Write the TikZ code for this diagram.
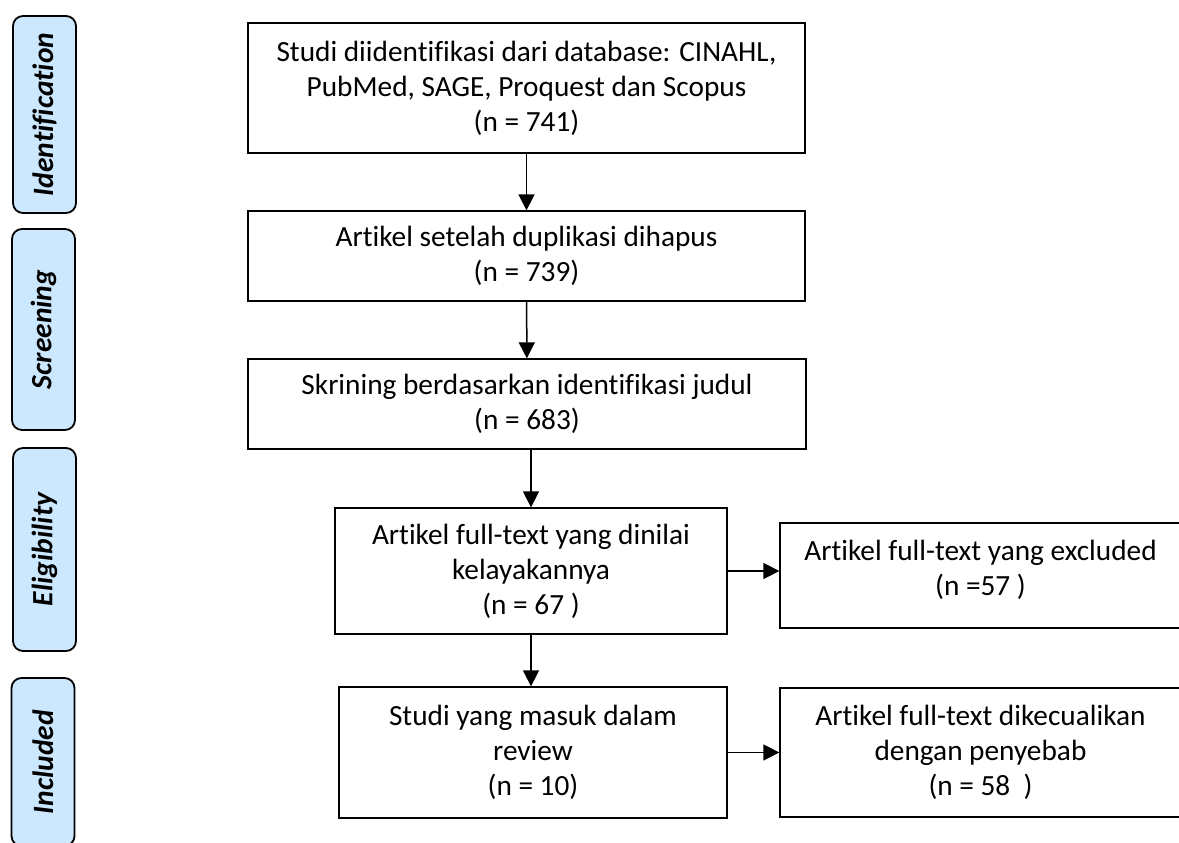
\documentclass[tikz,border=0pt]{standalone}
\usepackage{fontspec}
\setmainfont{Carlito}[Ligatures=NoCommon]
\usetikzlibrary{arrows.meta}
\definecolor{phaseblue}{RGB}{204,232,255}

\begin{document}
\begin{tikzpicture}[x=1pt,y=-1pt,
  box/.style={draw,line width=1.3pt,align=center,inner sep=0pt,font=\fontsize{29.3}{35}\selectfont},
  phase/.style={draw,line width=1.8pt,rounded corners=10pt,fill=phaseblue,rotate=90,
    minimum height=63pt,inner sep=0pt,font=\fontsize{29.5}{34}\selectfont\bfseries\itshape},
  arr/.style={-{Triangle[width=16pt,length=16pt]},line width=1.5pt}]
\clip (0,0) rectangle (1179,843);

\node[phase,minimum width=197pt] (pident) at (44.5,114.5) {Identification};
\node[phase,minimum width=201pt] (pscreen) at (43.5,329.5) {Screening};
\node[phase,minimum width=203pt] (pelig) at (44.5,549.5) {Eligibility};
\node[phase,minimum width=168pt] (pincl) at (43,762) {Included};

\node[box,minimum width=557pt,minimum height=130pt] (ident) at (526.5,88)
  {Studi diidentifikasi dari database: CINAHL,\\PubMed, SAGE, Proquest dan Scopus\\(n = 741)};
\node[box,minimum width=557pt,minimum height=90pt] (dup) at (526.5,256)
  {Artikel setelah duplikasi dihapus\\(n = 739)};
\node[box,minimum width=558pt,minimum height=90pt] (screen) at (527,404)
  {Skrining berdasarkan identifikasi judul\\(n = 683)};
\node[box,minimum width=392pt,minimum height=126pt] (full) at (531,571)
  {Artikel full-text yang dinilai\\kelayakannya\\(n = 67 )};
\node[box,minimum width=388pt,minimum height=131pt] (incl) at (533,752.5)
  {Studi yang masuk dalam\\review\\(n = 10)};
\node[box,minimum width=401pt,minimum height=105pt] (excl) at (980.5,575.5)
  {Artikel full-text yang excluded\\(n =57 )\\[-19pt]};
\node[box,minimum width=401pt,minimum height=129pt] (excl2) at (980.5,752.5)
  {Artikel full-text dikecualikan\\dengan penyebab\\(n = 58\ \ )};

\draw[arr] (ident) -- (dup);
\draw[arr] (dup) -- (screen);
\draw[arr] (full.north |- screen.south) -- (full.north);
\draw[arr] (full.south) -- (full.south |- incl.north);
\draw[arr] (full.east) -- (full.east -| excl.west);
\draw[arr] (incl.east) -- (incl.east -| excl2.west);
\end{tikzpicture}
\end{document}
